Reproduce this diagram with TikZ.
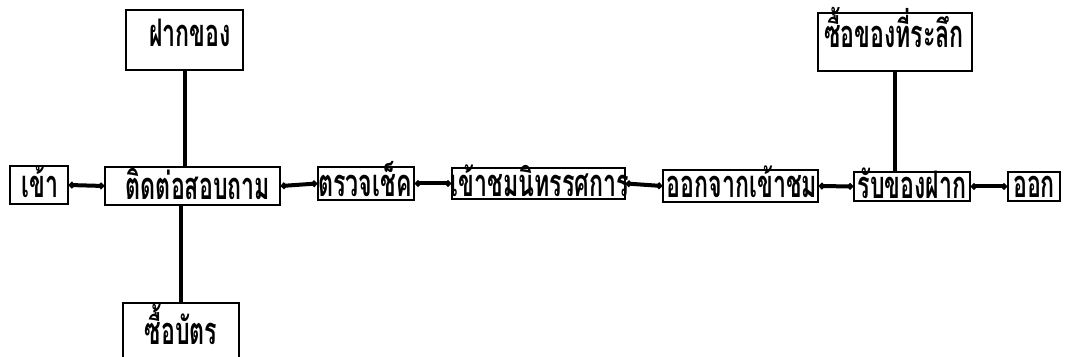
\documentclass[tikz,border=0pt]{standalone}
\usepackage{fontspec}
\newfontfamily\thaifont[Script=Thai,FakeStretch=0.61]{Loma}
\usetikzlibrary{arrows.meta}
\begin{document}
\begin{tikzpicture}[x=0.5pt,y=-0.5pt,
  box/.style={draw=black,line width=0.9pt,fill=white,inner sep=0pt},
  lbl/.style={anchor=base,inner sep=0pt,
    font=\thaifont\bfseries\fontsize{19}{21}\selectfont},
  link/.style={line width=2pt,{Circle[length=3pt]}-{Circle[length=3pt]}},
  vlink/.style={line width=2pt}]
\useasboundingbox (0,0) rectangle (1070,357);
\fill[white] (0,0) rectangle (1070,357);
% boxes
\node[box,minimum width=58.5pt,minimum height=30pt] (fak) at (184.5,40) {};
\node[box,minimum width=29pt,minimum height=19pt] (khao) at (39,185) {};
\node[box,minimum width=87.5pt,minimum height=19pt] (tit) at (192.5,186) {};
\node[box,minimum width=58pt,minimum height=34pt,anchor=north] (bat) at (181,302) {};
\node[box,minimum width=48pt,minimum height=16.5pt] (truat) at (366,183.5) {};
\node[box,minimum width=86.5pt,minimum height=15.5pt] (chom) at (538.5,183.5) {};
\node[box,minimum width=77.5pt,minimum height=16pt] (okchak) at (740.5,186) {};
\node[box,minimum width=58pt,minimum height=14.5pt] (rap) at (912,186.5) {};
\node[box,minimum width=26pt,minimum height=14.5pt] (ok) at (1034,186.5) {};
\node[box,minimum width=77pt,minimum height=29pt] (suekhong) at (895,42) {};
% connectors
\draw[link] (khao.east) -- (tit.west);
\draw[link] (tit.east) -- (truat.west);
\draw[link] (truat.east) -- (chom.west);
\draw[link] (chom.east) -- (okchak.west);
\draw[link] (okchak.east) -- (rap.west);
\draw[link] (rap.east) -- (ok.west);
\draw[vlink] (fak.south) -- (fak.south |- tit.north);
\draw[vlink] (bat.north) -- (bat.north |- tit.south);
\draw[vlink] (suekhong.south) -- (suekhong.south |- rap.north);
% labels
\node[lbl] (t-fak) at (190,47) {ฝากของ};
\node[lbl] (t-khao) at (40,198) {เข้า};
\node[lbl] (t-tit) at (198,200) {ติดต่อสอบถาม};
\node[lbl] (t-bat) at (181,345) {ซื้อบัตร};
\node[lbl] (t-truat) at (365,197) {ตรวจเช็ค};
\node[lbl] (t-chom) at (540,197) {เข้าชมนิทรรศการ};
\node[lbl] (t-okchak) at (742,198) {ออกจากเข้าชม};
\node[lbl] (t-rap) at (912,199) {รับของฝาก};
\node[lbl] (t-ok) at (1034,198) {ออก};
\node[lbl] (t-suekhong) at (894,48) {ซื้อของที่ระลึก};
\end{tikzpicture}
\end{document}
